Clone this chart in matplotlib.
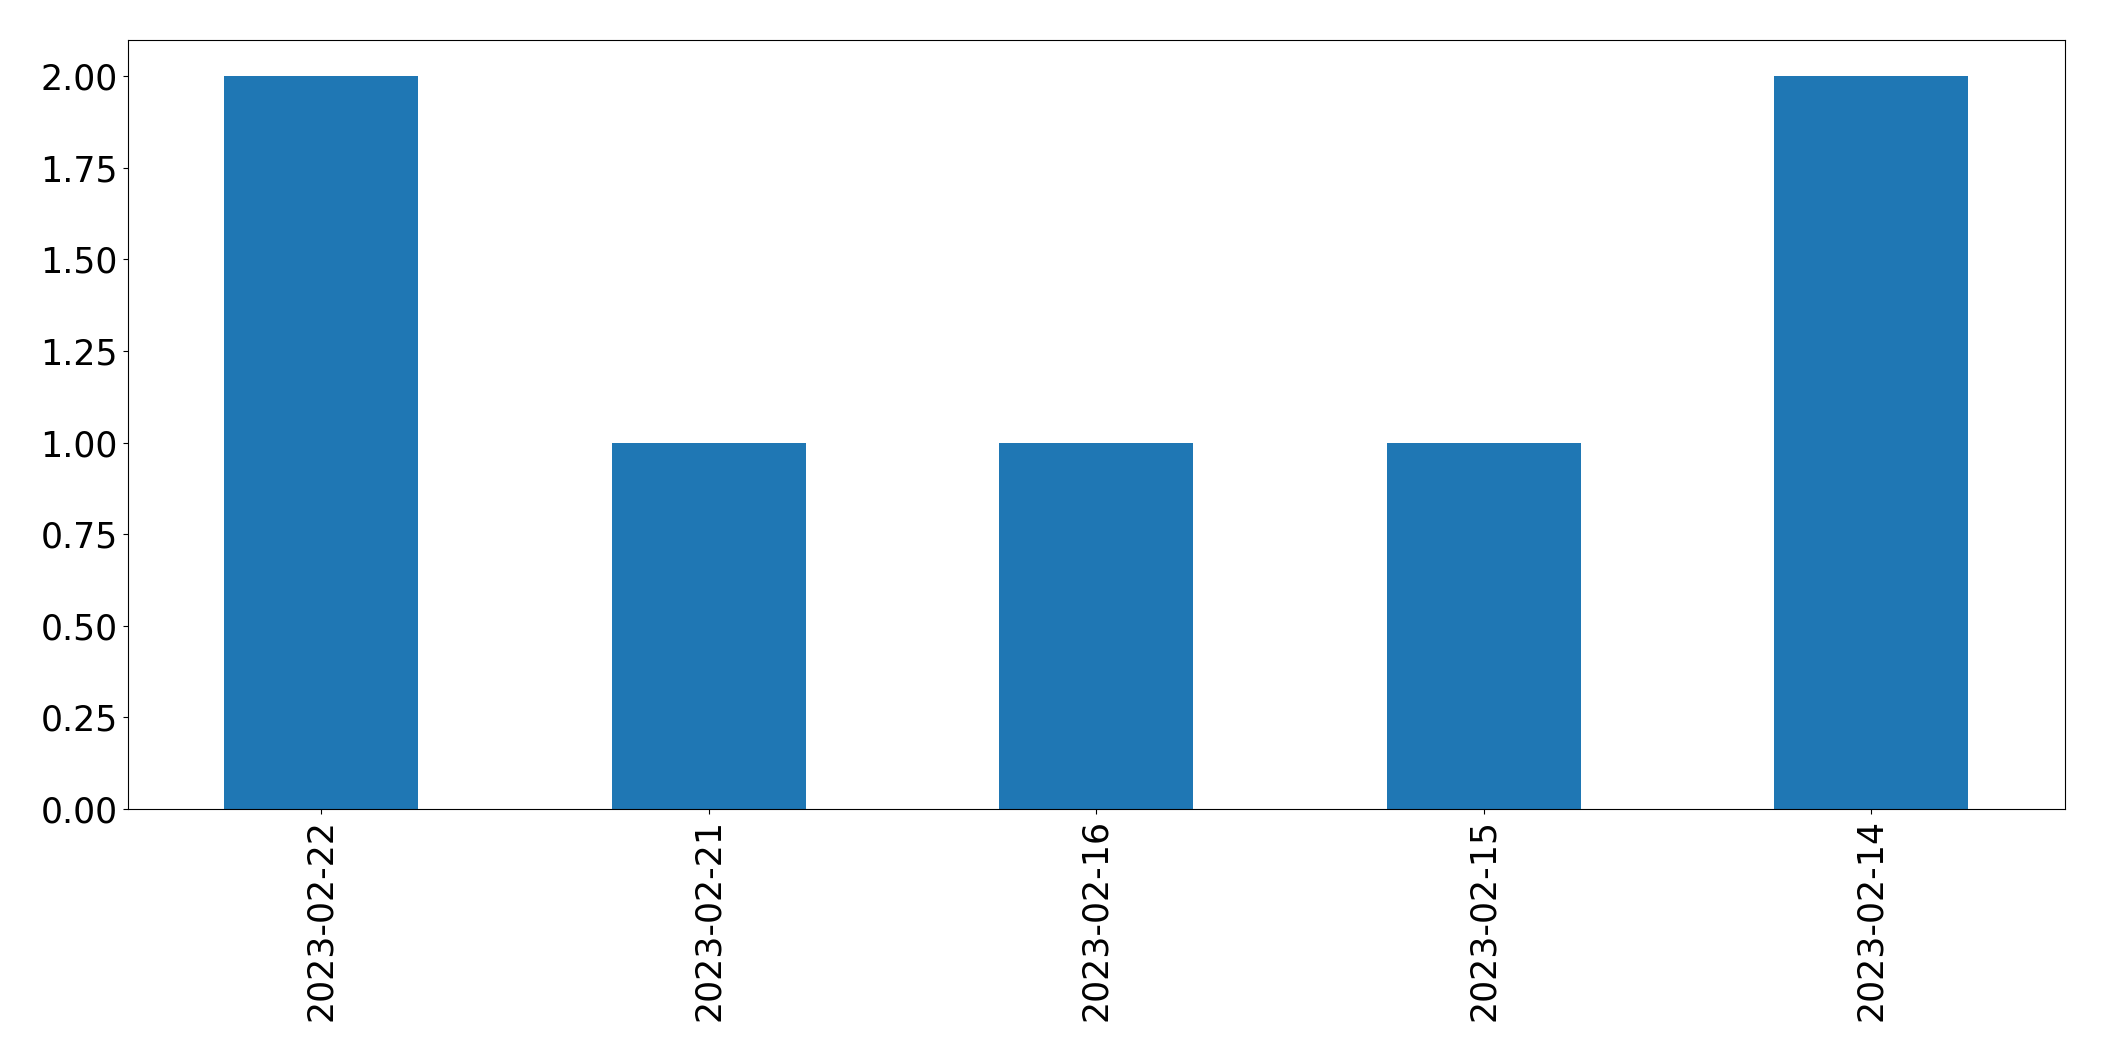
import matplotlib
matplotlib.use("Agg")
import matplotlib.pyplot as plt

dates = ["2023-02-22", "2023-02-21", "2023-02-16", "2023-02-15", "2023-02-14"]
counts = [2, 1, 1, 1, 2]

fig = plt.figure(figsize=(21.04, 10.61), dpi=100)
ax = fig.add_axes([127.5 / 2104, 1 - 809 / 1061, (2065 - 127.5) / 2104, (809 - 39.5) / 1061])
x = list(range(len(dates)))
ax.bar(x, counts, width=0.5, color="#1f77b4")
ax.set_xlim(-0.5, len(dates) - 0.5)
ax.set_ylim(0, 2.1)
ax.set_xticks(x)
ax.set_xticklabels(dates, rotation=90)
ax.set_yticks([0, 0.25, 0.5, 0.75, 1.0, 1.25, 1.5, 1.75, 2.0])
ax.set_yticklabels([f"{v:.2f}" for v in [0, 0.25, 0.5, 0.75, 1.0, 1.25, 1.5, 1.75, 2.0]])
ax.tick_params(labelsize=25)
fig.savefig("out.png", dpi=100)
